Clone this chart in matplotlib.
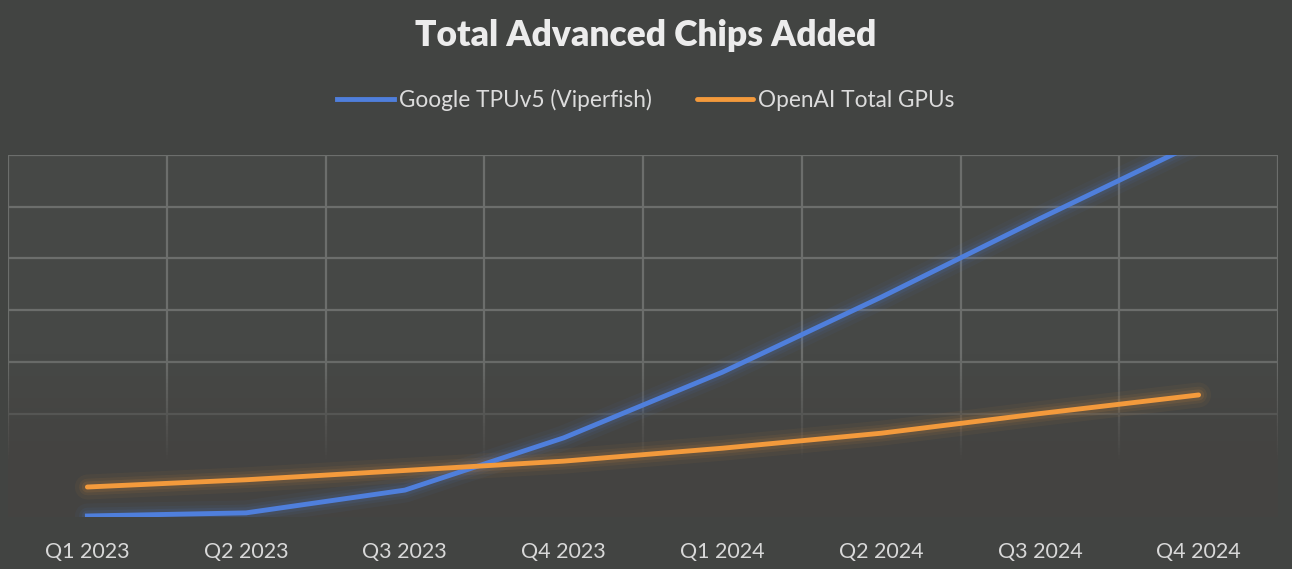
import numpy as np
import matplotlib
matplotlib.use("Agg")
import matplotlib.pyplot as plt

quarters = ["Q1 2023", "Q2 2023", "Q3 2023", "Q4 2023",
            "Q1 2024", "Q2 2024", "Q3 2024", "Q4 2024"]
google_tpu = [0.02, 0.08, 0.52, 1.53, 2.80, 4.25, 5.77, 7.25]
openai_gpu = [0.58, 0.72, 0.90, 1.08, 1.33, 1.62, 2.00, 2.36]

bg = "#424442"
grid_col = "#6c6e6c"
blue = "#4f7fdc"
orange = "#f39a3c"

plt.rcParams['font.family'] = ['Lato', 'DejaVu Sans']

fig = plt.figure(figsize=(12.92, 5.69), dpi=100)
fig.patch.set_facecolor(bg)

# plot area
ax = fig.add_axes([8/1292, 1-517/569, 1270/1292, (517-155)/569])
ax.set_facecolor("#464846")
x = np.arange(len(quarters))
ax.set_xlim(-0.5, len(quarters)-0.5)
ax.set_ylim(0, 7)

# grid as cell borders
for xv in np.arange(-0.5, len(quarters), 1.0):
    ax.axvline(xv, color=grid_col, lw=1.6, zorder=0.5)
for yv in range(0, 8):
    ax.axhline(yv, color=grid_col, lw=1.6, zorder=0.5)

# grid fades out towards the bottom
fade = np.zeros((100, 1, 4))
fade[..., :3] = np.array([0x44, 0x43, 0x41]) / 255
fade[:, 0, 3] = np.clip((np.linspace(0, 1, 100) - 0.55) / 0.3, 0, 1)
ax.imshow(fade, extent=(-0.5, len(quarters)-0.5, 0, 7), aspect="auto",
          origin="upper", zorder=1)

# glow
for w, a in [(18, 0.05), (12, 0.07), (8, 0.1)]:
    ax.plot(x, google_tpu, color=blue, lw=w, alpha=a, solid_capstyle="round", zorder=2)
    ax.plot(x, openai_gpu, color=orange, lw=w, alpha=a, solid_capstyle="round", zorder=2)

l1, = ax.plot(x, google_tpu, color=blue, lw=3.5, zorder=3, label="Google TPUv5 (Viperfish)")
l2, = ax.plot(x, openai_gpu, color=orange, lw=3.5, zorder=3, solid_capstyle="round",
              label="OpenAI Total GPUs")

ax.set_xticks(x)
ax.set_xticklabels(quarters, fontsize=15.5, color="#d8d8d8")
ax.tick_params(axis="x", length=0, pad=18)
ax.set_yticks([])
for s in ax.spines.values():
    s.set_visible(False)

fig.text(0.5, 1-35/569, "Total Advanced Chips Added", ha="center", va="center",
         fontsize=25.5, fontweight="heavy", color="#ececec")

fig.legend(handles=[l1, l2], loc="center", bbox_to_anchor=(0.5, 1-100/569), ncol=2,
           frameon=False, fontsize=16.3, labelcolor="#dcdcdc", handlelength=2.5,
           handletextpad=0.22, columnspacing=2.0)

fig.savefig("out.png", dpi=100, facecolor=fig.get_facecolor())
